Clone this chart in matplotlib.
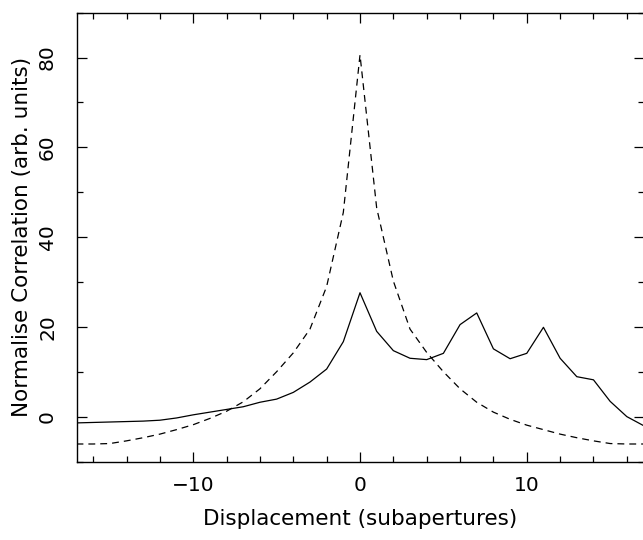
import matplotlib
matplotlib.use("Agg")
import matplotlib.pyplot as plt
from matplotlib.ticker import MultipleLocator
import numpy as np

# displacement in subapertures
disp = np.arange(-17, 18)

# solid curve
corr_solid = [-1.4, -1.3, -1.2, -1.1, -1.0, -0.8, -0.3, 0.4, 1.0, 1.6, 2.2, 3.2,
              3.9, 5.4, 7.7, 10.6, 16.7, 27.6, 19.0, 14.7, 13.0, 12.7, 14.1,
              20.5, 23.1, 15.1, 12.9, 14.1, 19.9, 13.0, 8.9, 8.2, 3.4, 0.0, -2.0]

# dashed curve
corr_dashed = [-6.1, -6.1, -6.0, -5.4, -4.7, -3.9, -2.9, -1.8, -0.4, 1.2, 3.3,
               6.2, 10.0, 14.2, 19.5, 29.0, 45.5, 80.6, 46.5, 30.2, 19.5, 14.3,
               10.0, 6.2, 3.2, 1.0, -0.6, -1.9, -2.9, -3.9, -4.7, -5.4, -6.0,
               -6.1, -6.1]

W, H = 643, 540
fig = plt.figure(figsize=(W / 100, H / 100), dpi=100)
ax = fig.add_axes([76.5 / W, (H - 461.5) / H, 567 / W, 448.8 / H])

ax.plot(disp, corr_solid, color="black", linewidth=0.9)
ax.plot(disp, corr_dashed, color="black", linewidth=0.9, dashes=[5.5, 4])

ax.set_xlim(-17, 17)
ax.set_ylim(-10, 90)

ax.xaxis.set_major_locator(MultipleLocator(10))
ax.xaxis.set_minor_locator(MultipleLocator(2))
ax.yaxis.set_major_locator(MultipleLocator(20))
ax.yaxis.set_minor_locator(MultipleLocator(10))

ax.tick_params(which="both", direction="in", top=True, right=True,
               colors="black", labelsize=14.5, width=0.9)
ax.tick_params(which="major", length=7.5)
ax.tick_params(which="minor", length=4)
ax.tick_params(axis="x", pad=10.5)
ax.tick_params(axis="y", pad=14)
for lbl in ax.get_yticklabels():
    lbl.set_rotation(90)
    lbl.set_va("center")

for spine in ax.spines.values():
    spine.set_linewidth(1.0)

ax.set_xlabel("Displacement (subapertures)", fontsize=15.5, labelpad=10)
ax.set_ylabel("Normalise Correlation (arb. units)", fontsize=15.5, labelpad=4)

fig.savefig("out.png", dpi=100)
